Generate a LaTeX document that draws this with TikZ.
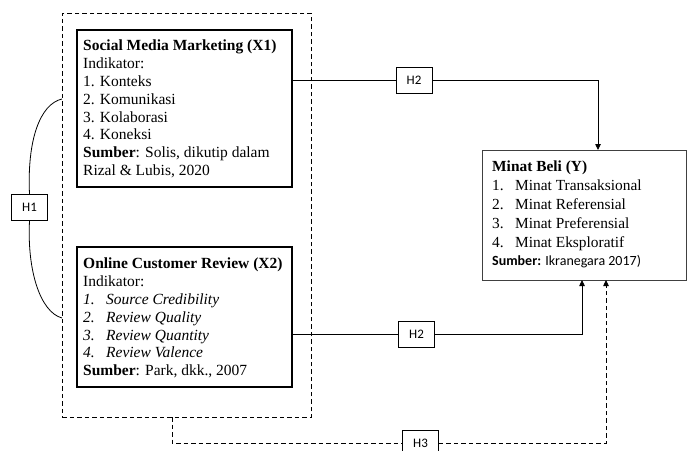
\documentclass[tikz,border=0pt]{standalone}
\usepackage{fontspec}
\setmainfont{Liberation Serif}
\newfontfamily\calib{Carlito}
\usetikzlibrary{arrows.meta}

\begin{document}
\begin{tikzpicture}[x=1pt,y=-1pt,
  group/.style={draw, line width=0.9pt, dash pattern=on 4.5pt off 3pt, inner sep=0, anchor=north west},
  frame/.style={draw, line width=2pt, inner sep=0, anchor=north west},
  ybox/.style={draw=black!75, line width=0.9pt, inner sep=0, anchor=north west},
  hbox/.style={draw, line width=0.7pt, fill=white, inner sep=0, minimum width=36pt, minimum height=26pt,
               font=\calib\fontsize{13}{15}\selectfont},
  body/.style={anchor=north west, align=left, inner sep=0, font=\fontsize{15.5}{17.9}\selectfont},
  link/.style={line width=0.8pt},
  dlink/.style={line width=0.8pt, dash pattern=on 4.5pt off 3pt},
  tip/.style={-{Triangle[length=6pt,width=5.5pt]}}
]
\useasboundingbox (0,0) rectangle (687,450);

% dashed grouping of the two independent variables
\node[group, minimum width=249pt, minimum height=404pt] (grp) at (62,13) {};

% independent variable X1
\node[frame, minimum width=215pt, minimum height=157pt] (x1) at (76,29) {};
\node[body] (t1) at (83,39.5) {\textbf{Social Media Marketing (X1)}\\
  Indikator:\\
  1. Konteks\\
  2. Komunikasi\\
  3. Kolaborasi\\
  4. Koneksi\\
  \textbf{Sumber}: Solis, dikutip dalam\\
  Rizal \& Lubis, 2020};

% independent variable X2
\node[frame, minimum width=215pt, minimum height=140pt] (x2) at (76,246) {};
\node[body] (t2) at (83,257.5) {\textbf{Online Customer Review (X2)}\\
  Indikator:\\
  \makebox[23pt][l]{\textit{1.}}\textit{Source Credibility}\\
  \makebox[23pt][l]{\textit{2.}}\textit{Review Quality}\\
  \makebox[23pt][l]{\textit{3.}}\textit{Review Quantity}\\
  \makebox[23pt][l]{\textit{4.}}\textit{Review Valence}\\
  \textbf{Sumber}: Park, dkk., 2007};

% dependent variable Y
\node[ybox, minimum width=203.5pt, minimum height=130pt] (yb) at (482,150) {};
\node[body, font=\fontsize{15.4}{18.8}\selectfont] (ty) at (492,161) {\textbf{Minat Beli (Y)}\\
  \makebox[23pt][l]{1.}Minat Transaksional\\
  \makebox[23pt][l]{2.}Minat Referensial\\
  \makebox[23pt][l]{3.}Minat Preferensial\\
  \makebox[23pt][l]{4.}Minat Eksploratif\\
  {\calib\fontsize{14}{18.8}\selectfont\textbf{Sumber:} Ikranegara 2017)}};

% hypothesis labels
\node[hbox] (h1) at (29.5,207.5) {H1};
\node[hbox] (h2a) at (414,80) {H2};
\node[hbox] (h2b) at (416.5,334) {H2};
\node[hbox] (h3) at (420.5,443) {H3};

% end points on the dashed group and on Y
\coordinate (g1) at (62,99);
\coordinate (g2) at (62,318);
\coordinate (gb) at (172,417);
\coordinate (ytop) at (598,150);
\coordinate (ybot1) at (582,280);
\coordinate (ybot2) at (606,280);

% H1: simultaneous relation of the two variables
\draw[link] (h1.north) .. controls (27,140) and (40,104) .. (g1);
\draw[link] (h1.south) .. controls (27,270) and (40,312) .. (g2);

% H2: X1 -> Y
\draw[link] (x1.east |- h2a) -- (h2a);
\draw[link, tip] (h2a) -| (ytop);

% H2: X2 -> Y
\draw[link] (x2.east |- h2b) -- (h2b);
\draw[link, tip] (h2b) -| (ybot1);

% H3: X1 and X2 together -> Y
\draw[dlink] (gb) |- (h3);
\draw[dlink, tip] (h3) -| (ybot2);
\end{tikzpicture}
\end{document}
